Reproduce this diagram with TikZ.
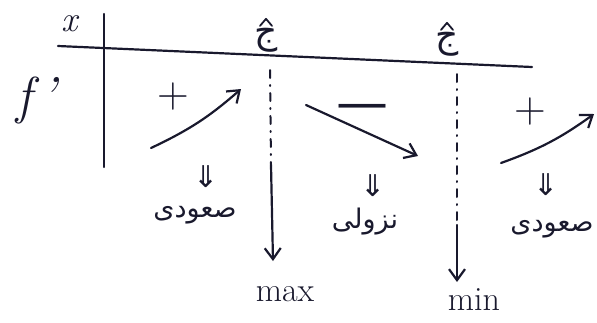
\documentclass[tikz,border=0pt]{standalone}
\usepackage{fontspec}
\usetikzlibrary{arrows.meta}
\newfontfamily\arabicfont[Script=Arabic]{DejaVu Sans}
\newfontfamily\symfont{DejaVu Sans}
\TeXXeTstate=1
\definecolor{ink}{RGB}{25,25,45}
\tikzset{
  txt/.style={inner sep=0pt, text=ink, font=\fontsize{34}{36}\selectfont},
  sign/.style={inner sep=0pt, text=ink, font=\fontsize{44}{44}\selectfont},
  word/.style={inner sep=0pt, text=ink, font=\fontsize{27}{28}\selectfont\arabicfont},
  dbl/.style={inner sep=0pt, text=ink, font=\fontsize{30}{30}\selectfont\symfont},
  crit/.style={inner sep=0pt, text=ink, font=\fontsize{36}{36}\selectfont\arabicfont},
  hat/.style={line width=1.8pt, line join=round},
  dashline/.style={line width=2pt, dash pattern=on 8pt off 7pt on 1pt off 7pt}
}
\begin{document}
\begin{tikzpicture}[>={Straight Barb[length=11pt,width=16pt]}, x=1pt, y=-1pt, line width=2.2pt, draw=ink, line cap=round]
  \useasboundingbox (0,0) rectangle (597,322);

  % table lines
  \draw (58,46) -- (532,67);
  \draw (104,14) -- (104,167);
  \node[txt, font=\fontsize{36}{36}\selectfont\itshape] (xl) at (70,24) {x};
  \node[txt, font=\fontsize{52}{52}\selectfont\itshape] (fl) at (36,100) {f\,’};

  % critical points
  \node[crit] (c1) at (266,40) {\beginR ج\endR};
  \node[crit] (c2) at (447,44) {\beginR ج\endR};
  \draw[hat] (c1.north) ++(-6,-1) -- ++(6,-7) -- ++(6,7);
  \draw[hat] (c2.north) ++(-6,-1) -- ++(6,-7) -- ++(6,7);
  \coordinate (d1) at (270,70);
  \coordinate (m1) at (271,165);
  \coordinate (d2) at (457,74);
  \coordinate (m2) at (457,225);
  \node[txt] (max) at (285,294) {max};
  \node[txt] (min) at (474,300) {min};
  \draw[dashline] (d1) -- (m1);
  \draw[dashline] (d2) -- (m2);
  \draw[->] (m1) -- (273,261);
  \draw[->] (m2) -- (457,282);

  % signs and variation
  \node[sign] (p1) at (173,97) {+};
  \node[sign, font=\fontsize{52}{52}\selectfont\symfont] (n1) at (362,112) {—};
  \node[sign] (p2) at (530,112) {+};
  \coordinate (a1) at (151,148);
  \coordinate (b1) at (241,89);
  \coordinate (a2) at (306,105);
  \coordinate (b2) at (418,156);
  \coordinate (a3) at (501,163);
  \coordinate (b3) at (594,114);
  \draw[->] (a1) to[bend right=8] (b1);
  \draw[->] (a2) -- (b2);
  \draw[->] (a3) to[bend right=8] (b3);

  % conclusions
  \node[dbl] (q1) at (206,177) {⇓};
  \node[dbl] (q2) at (373,186) {⇓};
  \node[dbl] (q3) at (546,185) {⇓};
  \node[word] (w1) at (195,215) {\beginR صعودی\endR};
  \node[word] (w2) at (365,222) {\beginR نزولی\endR};
  \node[word] (w3) at (552,229) {\beginR صعودی\endR};
\end{tikzpicture}
\end{document}
